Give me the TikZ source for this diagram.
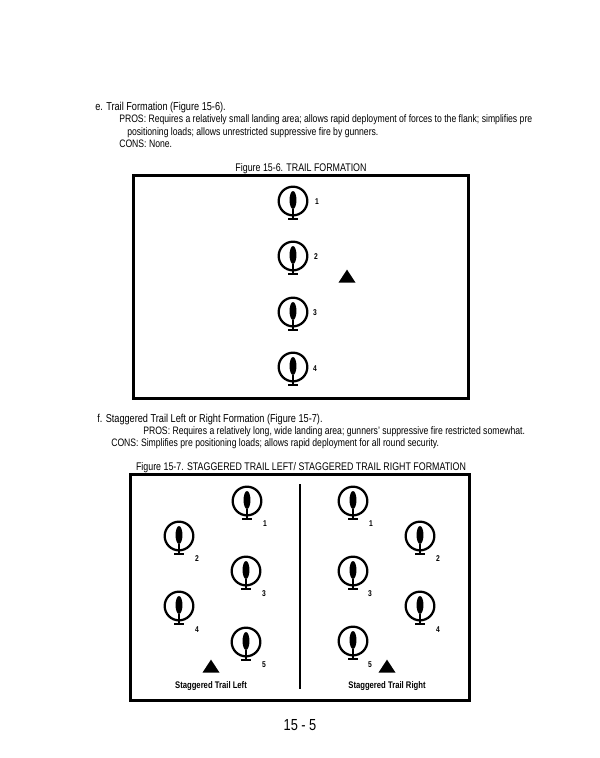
\documentclass[tikz,border=0pt]{standalone}
\usepackage{fontspec}
\setmainfont[FakeStretch=.8]{Liberation Sans}
\usepackage{xcolor}
\usetikzlibrary{shapes.geometric}
\tikzset{
	rotor/.style={circle,draw,line width=1.7pt,inner sep=0pt,minimum size=21.5pt},
	body/.style={ellipse,fill=black,inner sep=0pt,minimum width=5.2pt,minimum height=13.5pt},
	head/.style={inner sep=0pt,anchor=base west,font=\fontsize{8.6}{10}\selectfont},
	lead/.style={inner sep=0pt,anchor=base west,font=\fontsize{8.1}{10}\selectfont},
	capt/.style={inner sep=0pt,anchor=base,font=\fontsize{8.3}{10}\selectfont},
	num/.style={inner sep=0pt,font=\bfseries\fontsize{6.3}{7}\selectfont},
	lbl/.style={inner sep=0pt,font=\bfseries\fontsize{7.2}{8}\selectfont},
	lead ship/.style={isosceles triangle,isosceles triangle apex angle=66,isosceles triangle stretches,shape border rotate=90,fill=black,inner sep=0pt,minimum width=12.75pt,minimum height=9.75pt}
}
\newcommand{\heli}[3]{
	\node[rotor] (#1) at (#2,#3) {};
	\node[body] (#1b) at (#2,#3-1) {};
	\coordinate (#1t) at (#2,#3+18);
	\coordinate (#1l) at (#2-5,#3+18);
	\coordinate (#1r) at (#2+5,#3+18);
	\draw[line width=1.5pt] (#1b) -- (#1t);
	\draw[line width=1.3pt] (#1l) -- (#1r);
}
\begin{document}
\begin{tikzpicture}[x=.75pt,y=-.75pt]
	\useasboundingbox (0,0) rectangle (600,758);
	
	\node[head] (e0) at (95,110) {e. Trail Formation (Figure 15-6).};
	\node[lead] (e1) at (119,122.5) {PROS: Requires a relatively small landing area; allows rapid deployment of forces to the flank; simplifies pre};
	\node[lead] (e2) at (127,135) {positioning loads; allows unrestricted suppressive fire by gunners.};
	\node[lead] (e3) at (119,147) {CONS: None.};
	\node[capt] (c6) at (301,171.5) {Figure 15-6. TRAIL FORMATION};
	
	\begin{scope}
		\node[draw,line width=2.2pt,inner sep=0pt,minimum width=251pt,minimum height=167pt] (box6) at (301,287) {};
		\heli{a1}{293}{201}
		\heli{a2}{293}{256}
		\heli{a3}{293}{312}
		\heli{a4}{293}{367}
		\node[num] (n1) at (317,202) {1};
		\node[num] (n2) at (316,257) {2};
		\node[num] (n3) at (315,313) {3};
		\node[num] (n4) at (315,369) {4};
		\node[lead ship] (t6) at (347,278) {};
	\end{scope}
	
	\node[head] (f0) at (97,422) {f. Staggered Trail Left or Right Formation (Figure 15-7).};
	\node[lead] (f1) at (143,434) {PROS: Requires a relatively long, wide landing area; gunners' suppressive fire restricted somewhat.};
	\node[lead] (f2) at (111,446) {CONS: Simplifies pre positioning loads; allows rapid deployment for all round security.};
	\node[capt] (c7) at (301,470.5) {Figure 15-7. STAGGERED TRAIL LEFT/ STAGGERED TRAIL RIGHT FORMATION};
	
	\begin{scope}
		\node[draw,line width=2.2pt,inner sep=0pt,minimum width=254.5pt,minimum height=170pt] (box7) at (300,587.5) {};
		\coordinate (d1) at (300,484);
		\coordinate (d2) at (300,689);
		\draw[line width=2.2pt] (d1) -- (d2);
		
		\heli{l1}{247}{501}
		\heli{l2}{179}{536}
		\heli{l3}{246}{571}
		\heli{l4}{179}{606}
		\heli{l5}{246}{642}
		\node[num] (p1) at (265,524) {1};
		\node[num] (p2) at (197,559) {2};
		\node[num] (p3) at (264,594) {3};
		\node[num] (p4) at (197,630) {4};
		\node[num] (p5) at (264,665) {5};
		\node[lead ship] (tl) at (211,668) {};
		\node[lbl] (sl) at (211,686) {Staggered Trail Left};
		
		\heli{r1}{353}{501}
		\heli{r2}{420}{536}
		\heli{r3}{353}{571}
		\heli{r4}{420}{606}
		\heli{r5}{353}{641}
		\node[num] (q1) at (371,524) {1};
		\node[num] (q2) at (438,559) {2};
		\node[num] (q3) at (370,594) {3};
		\node[num] (q4) at (438,630) {4};
		\node[num] (q5) at (370,665) {5};
		\node[lead ship] (tr) at (387,668) {};
		\node[lbl] (sr) at (387,686) {Staggered Trail Right};
	\end{scope}
	
	\node[inner sep=0pt,font=\fontsize{12}{14}\selectfont] (pg) at (300,725) {15 - 5};
\end{tikzpicture}
\end{document}
